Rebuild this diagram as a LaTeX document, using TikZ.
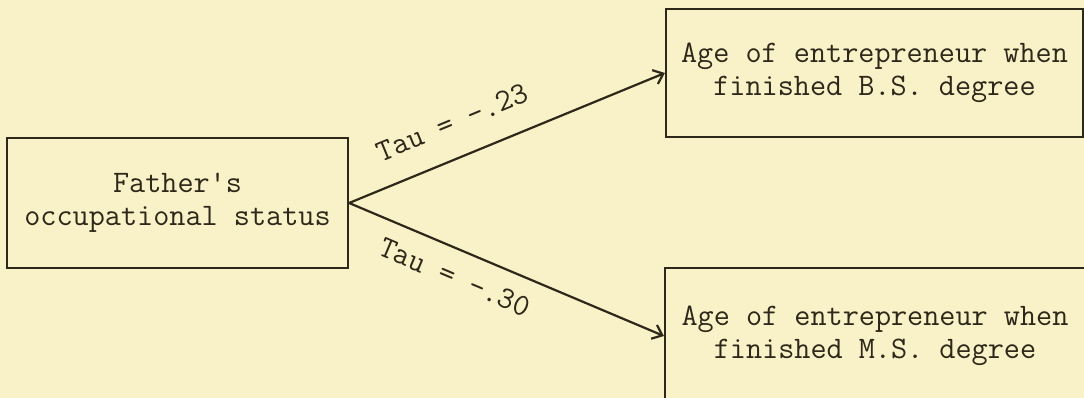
\documentclass[tikz,border=0pt]{standalone}
\usetikzlibrary{arrows.meta}
\definecolor{paper}{RGB}{249,242,200}
\definecolor{ink}{RGB}{45,40,25}
\tikzset{
  box/.style={draw=ink, line width=2.2pt, rectangle, inner sep=0pt, align=center,
    text=ink, font=\ttfamily\fontsize{31.3}{33}\selectfont},
  link/.style={draw=ink, line width=2.2pt, -{Straight Barb[length=9pt,width=15pt,line width=2.2pt]}},
  lab/.style={text=ink, font=\ttfamily\fontsize{31.3}{33}\selectfont, sloped, inner sep=0pt}
}
\begin{document}
\begin{tikzpicture}[x=1pt,y=-1pt]
\useasboundingbox (0,0) rectangle (1084,398);
\fill[paper] (0,0) rectangle (1084,398);
\clip (0,0) rectangle (1084,398);
\node[box, minimum width=341pt, minimum height=130pt] (F) at (177.5,203) {Father's\\occupational status};
\node[box, minimum width=417pt, minimum height=128pt] (B) at (874.5,73) {Age of entrepreneur when\\finished B.S. degree};
\node[box, minimum width=420pt, minimum height=136pt] (M) at (875,336) {Age of entrepreneur when\\finished M.S. degree};
\draw[link] (F.east) -- node[lab, pos=0.37, above=24pt] {Tau = -.23} (B.west);
\draw[link] (F.east) -- node[lab, pos=0.37, below=16pt] {Tau = -.30} (M.west);
\end{tikzpicture}
\end{document}
